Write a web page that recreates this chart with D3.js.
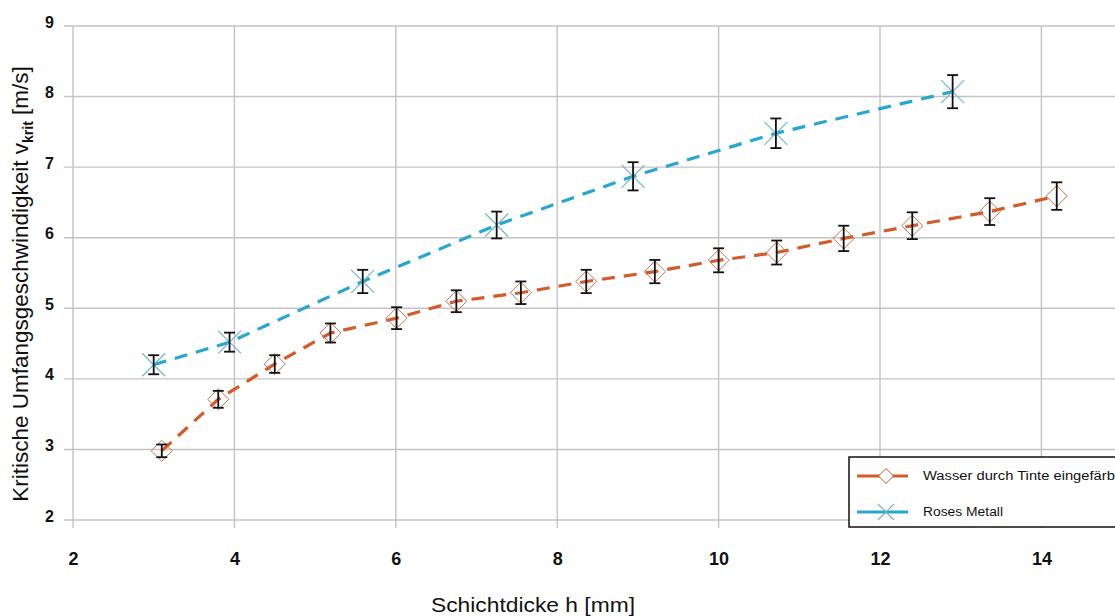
<!DOCTYPE html>
<html>
<head>
<meta charset="utf-8">
<script src="https://cdn.jsdelivr.net/npm/d3@7"></script>
<style>
  html, body { margin: 0; padding: 0; background: #fff; }
  svg { display: block; }
  text { font-family: "Liberation Sans", Arial, sans-serif; }
</style>
</head>
<body>
<div id="chart"></div>
<script>
// ---- data ----
const waterX   = [3.1, 3.8, 4.5, 5.19, 6.01, 6.75, 7.55, 8.36, 9.21, 10.0, 10.72, 11.55, 12.4, 13.36, 14.19];
const waterY   = [2.98, 3.71, 4.21, 4.65, 4.86, 5.10, 5.22, 5.38, 5.52, 5.68, 5.79, 5.99, 6.17, 6.37, 6.59];
const waterErr = [0.09, 0.12, 0.125, 0.135, 0.155, 0.155, 0.16, 0.165, 0.165, 0.17, 0.17, 0.18, 0.19, 0.19, 0.195];

const metalX   = [3.0, 3.94, 5.59, 7.25, 8.94, 10.71, 12.9];
const metalY   = [4.20, 4.52, 5.38, 6.18, 6.87, 7.48, 8.07];
const metalErr = [0.135, 0.135, 0.165, 0.19, 0.2, 0.21, 0.235];

const xTicks = [2, 4, 6, 8, 10, 12, 14];
const yTicks = [2, 3, 4, 5, 6, 7, 8, 9];

const seriesNames = ["Wasser durch Tinte eingefärbt", "Roses Metall"];
const xTitle = "Schichtdicke h [mm]";

// ---- layout ----
const W = 1115, H = 616;
const svg = d3.select("#chart").append("svg").attr("width", W).attr("height", H);
svg.append("rect").attr("width", W).attr("height", H).attr("fill", "#fff");

const x = d3.scaleLinear().domain([2, 16]).range([73, 73 + 14 * 80.7]);
const y = d3.scaleLinear().domain([2, 9]).range([520, 26]);

const gridColor = "#c3c3c3";

// gridlines
const g = svg.append("g");
g.selectAll("line.vg").data(xTicks.filter(d => d > 2)).enter().append("line")
  .attr("x1", d => x(d)).attr("x2", d => x(d))
  .attr("y1", y(9)).attr("y2", y(2) + 8)
  .attr("stroke", gridColor).attr("stroke-width", 1.4);
g.selectAll("line.hg").data(yTicks).enter().append("line")
  .attr("x1", x(2) - 9).attr("x2", W)
  .attr("y1", d => y(d)).attr("y2", d => y(d))
  .attr("stroke", gridColor).attr("stroke-width", 1.4);
g.append("line").attr("x1", x(2)).attr("x2", x(2)).attr("y1", y(9)).attr("y2", y(2) + 8)
  .attr("stroke", gridColor).attr("stroke-width", 1.4);

// axes labels
const xAxis = d3.axisBottom(x).tickValues(xTicks).tickSize(0).tickPadding(0).tickFormat(d3.format("d"));
const xg = svg.append("g").attr("transform", `translate(0, ${y(2) + 45})`).call(xAxis);
xg.attr("font-size", null).attr("font-family", null);
xg.select(".domain").remove();
xg.selectAll("text")
  .attr("dy", 0)
  .style("font-family", "'Liberation Sans Narrow', 'Liberation Sans', Arial, sans-serif")
  .style("font-weight", "bold").style("font-size", "18px").attr("fill", "#111");

const yAxis = d3.axisLeft(y).tickValues(yTicks).tickSize(0).tickPadding(0).tickFormat(d3.format("d"));
const yg = svg.append("g").attr("transform", `translate(${x(2) - 19}, -4)`).call(yAxis);
yg.attr("font-size", null).attr("font-family", null);
yg.select(".domain").remove();
yg.selectAll("text")
  .style("font-family", "'Liberation Sans', Arial, sans-serif")
  .style("font-weight", "bold").style("font-size", "16px").attr("fill", "#111");

// titles
svg.append("text")
  .attr("x", 533).attr("y", 612)
  .attr("text-anchor", "middle")
  .style("font-family", "'Liberation Sans Narrow', 'Liberation Sans', Arial, sans-serif")
  .style("font-size", "21px").attr("fill", "#111")
  .attr("textLength", 204).attr("lengthAdjust", "spacingAndGlyphs")
  .text(xTitle);

const yt = svg.append("text")
  .attr("transform", "translate(28, 284) rotate(-90)")
  .attr("text-anchor", "middle")
  .style("font-size", "22.5px").attr("fill", "#111");
yt.append("tspan").text("Kritische Umfangsgeschwindigkeit v");
yt.append("tspan").style("font-size", "14px").attr("dy", 5).style("font-weight", "bold").text("krit");
yt.append("tspan").attr("dy", -5).text(" [m/s]");

// series
const orange = "#d45a2a", blue = "#27a7cf";
const waterData = waterX.map((d, i) => ({x: d, y: waterY[i], e: waterErr[i]}));
const metalData = metalX.map((d, i) => ({x: d, y: metalY[i], e: metalErr[i]}));

const line = d3.line().x(d => x(d.x)).y(d => y(d.y));

function drawSeries(data, color) {
  svg.append("path").datum(data).attr("d", line)
    .attr("fill", "none").attr("stroke", color).attr("stroke-width", 3.2)
    .attr("stroke-dasharray", "13,9");
}
drawSeries(metalData, blue);
drawSeries(waterData, orange);

// markers
const diamond = (cx, cy, r) => `M${cx},${cy - r}L${cx + r},${cy}L${cx},${cy + r}L${cx - r},${cy}Z`;
svg.selectAll("path.dm").data(waterData).enter().append("path")
  .attr("d", d => diamond(x(d.x), y(d.y), 10.5))
  .attr("fill", "none").attr("stroke", "#c27552").attr("stroke-width", 1);

svg.selectAll("path.xm").data(metalData).enter().append("path")
  .attr("d", d => { const cx = x(d.x), cy = y(d.y), r = 11.5;
    return `M${cx - r},${cy - r}L${cx + r},${cy + r}M${cx - r},${cy + r}L${cx + r},${cy - r}`; })
  .attr("fill", "none").attr("stroke", "#6fb3c9").attr("stroke-width", 1.1);

// error bars
function errorBars(data) {
  const eg = svg.append("g").attr("stroke", "#111").attr("stroke-width", 1.8).attr("fill", "none");
  data.forEach(d => {
    const cx = x(d.x), y1 = y(d.y + d.e), y2 = y(d.y - d.e);
    eg.append("line").attr("x1", cx).attr("x2", cx).attr("y1", y1).attr("y2", y2);
    eg.append("line").attr("x1", cx - 5.5).attr("x2", cx + 5.5).attr("y1", y1).attr("y2", y1);
    eg.append("line").attr("x1", cx - 5.5).attr("x2", cx + 5.5).attr("y1", y2).attr("y2", y2);
  });
}
errorBars(waterData);
errorBars(metalData);

// legend
const lg = svg.append("g");
lg.append("rect").attr("x", 849).attr("y", 457).attr("width", 300).attr("height", 70)
  .attr("fill", "#fff").attr("stroke", "#111").attr("stroke-width", 1.5);
const legendRows = [
  {name: seriesNames[0], color: orange, marker: "d", yy: 476, len: 196},
  {name: seriesNames[1], color: blue, marker: "x", yy: 512, len: 80}
];
legendRows.forEach(r => {
  lg.append("line").attr("x1", 857).attr("x2", 908).attr("y1", r.yy).attr("y2", r.yy)
    .attr("stroke", r.color).attr("stroke-width", 3.2);
  if (r.marker === "d") {
    lg.append("path").attr("d", diamond(886, r.yy, 7.5)).attr("fill", "#fff")
      .attr("stroke", "#b5532f").attr("stroke-width", 1);
  } else {
    lg.append("path").attr("d", `M878,${r.yy - 8}L894,${r.yy + 8}M878,${r.yy + 8}L894,${r.yy - 8}`)
      .attr("stroke", "#6fb3c9").attr("stroke-width", 1.1);
  }
  lg.append("text").attr("x", 923).attr("y", r.yy + 4)
    .style("font-size", "12px").attr("fill", "#111")
    .attr("textLength", r.len).attr("lengthAdjust", "spacingAndGlyphs")
    .text(r.name);
});
</script>
</body>
</html>
